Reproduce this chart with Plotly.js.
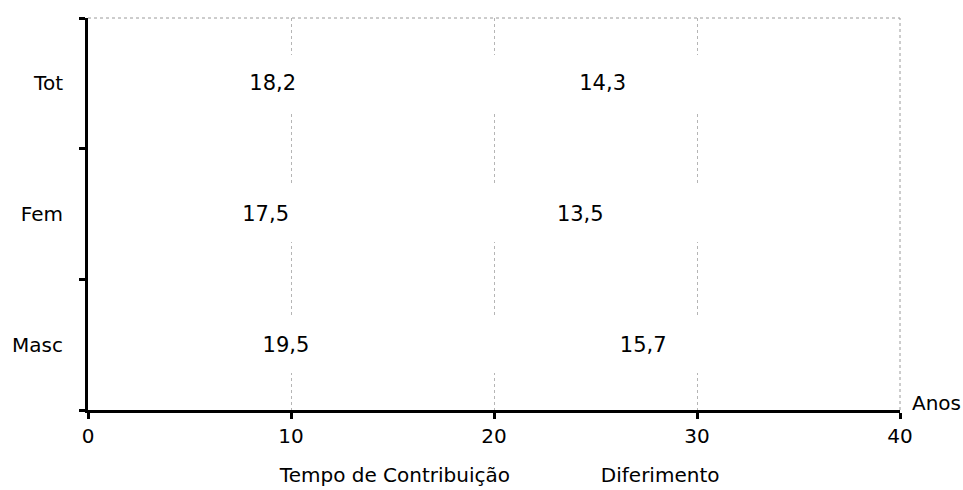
<!DOCTYPE html>
<html>
<head>
<meta charset="utf-8">
<script src="https://cdn.plot.ly/plotly-3.0.1.min.js"></script>
<style>html,body{margin:0;padding:0;background:#fff;}#chart{width:963px;height:490px;}</style>
</head>
<body>
<div id="chart"></div>
<script>
const categories = ["Masc", "Fem", "Tot"];
const tempoContribuicao = [19.5, 17.5, 18.2];
const diferimento = [15.7, 13.5, 14.3];
const seriesNames = ["Tempo de Contribuição", "Diferimento"];
const xTicks = [0, 10, 20, 30, 40];

const FONT = "DejaVu Sans, Verdana, sans-serif";

const traces = [
  {
    type: "bar", orientation: "h", name: seriesNames[0],
    y: categories, x: tempoContribuicao,
    marker: {color: "#ffffff", line: {width: 0}},
    texttemplate: "%{x:.1f}", textposition: "inside", insidetextanchor: "middle",
    textfont: {family: FONT, size: 21, color: "#000"}, hoverinfo: "x+y"
  },
  {
    type: "bar", orientation: "h", name: seriesNames[1],
    y: categories, x: diferimento,
    marker: {color: "#ffffff", line: {width: 0}},
    texttemplate: "%{x:.1f}", textposition: "inside", insidetextanchor: "middle",
    textfont: {family: FONT, size: 21, color: "#000"}, hoverinfo: "x+y"
  }
];

const layout = {
  width: 963, height: 490,
  margin: {l: 88, r: 63, t: 18, b: 80, autoexpand: false},
  paper_bgcolor: "#fff", plot_bgcolor: "#fff",
  separators: ",.",
  barmode: "stack", bargap: 0.57,
  font: {family: FONT, size: 20, color: "#000"},
  showlegend: true,
  legend: {
    orientation: "h", x: 0.187, xanchor: "left", y: -0.165, yanchor: "middle",
    font: {family: FONT, size: 20, color: "#000"},
    traceorder: "normal", entrywidth: 276, entrywidthmode: "pixels",
    bgcolor: "rgba(0,0,0,0)"
  },
  xaxis: {
    range: [0, 40], tickvals: xTicks, ticktext: xTicks.map(String),
    showline: true, linecolor: "#000", linewidth: 3,
    ticks: "outside", ticklen: 6, tickwidth: 3, tickcolor: "#000",
    showgrid: true, gridcolor: "#b5b5b5", gridwidth: 1, griddash: "dot",
    zeroline: false, tickfont: {family: FONT, size: 20, color: "#000"}
  },
  yaxis: {
    type: "category", categoryorder: "array", categoryarray: categories,
    showline: true, linecolor: "#000", linewidth: 3,
    ticks: "outside", tickson: "boundaries", ticklen: 6, tickwidth: 3, tickcolor: "#000",
    showgrid: false, zeroline: false, ticklabelstandoff: 18,
    tickfont: {family: FONT, size: 20, color: "#000"}
  },
  shapes: [
    {type: "line", xref: "paper", yref: "paper", x0: 0, x1: 1, y0: 1, y1: 1,
     line: {color: "#9a9a9a", width: 1, dash: "dot"}, layer: "below"},
    {type: "line", xref: "paper", yref: "paper", x0: 1, x1: 1, y0: 0, y1: 1,
     line: {color: "#9a9a9a", width: 1, dash: "dot"}, layer: "below"}
  ],
  annotations: [
    {text: "Anos", xref: "paper", yref: "paper", x: 1, y: 0, xanchor: "left", yanchor: "middle",
     xshift: 10, yshift: 7, showarrow: false, font: {family: FONT, size: 20, color: "#000"}}
  ]
};

Plotly.newPlot("chart", traces, layout, {displayModeBar: false, staticPlot: true});
</script>
</body>
</html>
